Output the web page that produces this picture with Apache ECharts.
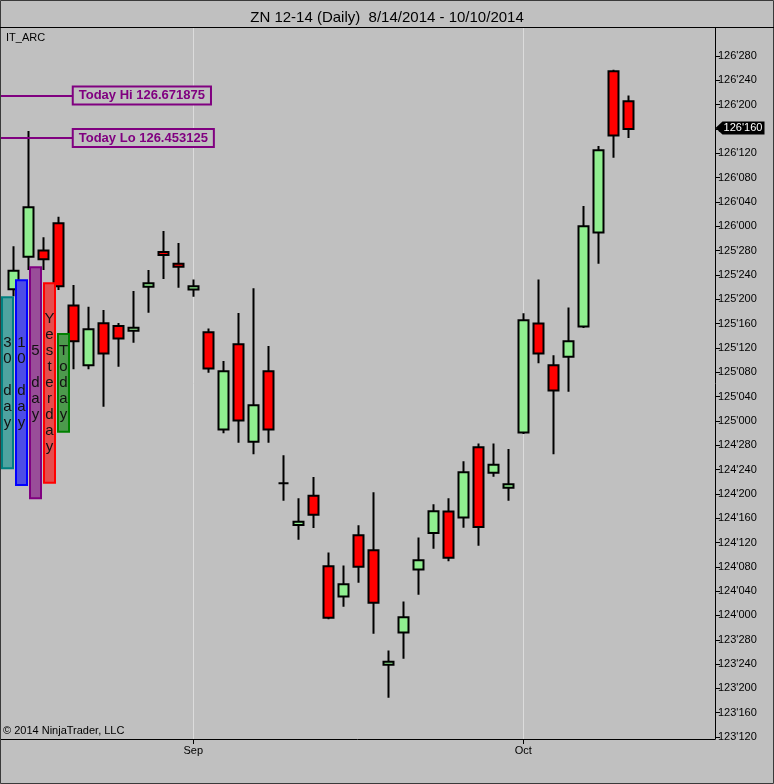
<!DOCTYPE html>
<html>
<head>
<meta charset="utf-8">
<title>ZN 12-14 (Daily)</title>
<script src="https://cdn.jsdelivr.net/npm/echarts@6/dist/echarts.min.js"></script>
<style>
  html, body { margin: 0; padding: 0; background: #c0c0c0; }
  #chart { width: 774px; height: 784px; }
</style>
</head>
<body>
<div id="chart"></div>
<script>
// daily bars 8/14/2014 - 10/10/2014 (Labor Day session included)
const dates = ['8/14','8/15','8/18','8/19','8/20','8/21','8/22','8/25','8/26','8/27','8/28','8/29',
  '9/1','9/2','9/3','9/4','9/5','9/8','9/9','9/10','9/11','9/12','9/15','9/16','9/17','9/18','9/19',
  '9/22','9/23','9/24','9/25','9/26','9/29','9/30',
  '10/1','10/2','10/3','10/6','10/7','10/8','10/9','10/10'];
const monthNames = ['Jan','Feb','Mar','Apr','May','Jun','Jul','Aug','Sep','Oct','Nov','Dec'];

const opens  = [125.676, 125.843, 125.875, 126.016, 125.593, 125.286, 125.502, 125.488, 125.463, 125.689,
  125.868, 125.808, 125.675, 125.455, 124.955, 125.394, 124.892, 125.255, 124.680, 124.465,
  124.615, 124.253, 124.097, 124.412, 124.335, 123.746, 123.912, 124.236, 124.424, 124.534,
  124.503, 124.864, 124.733, 124.656, 124.940, 125.500, 125.286, 125.329, 125.485, 125.968,
  126.797, 126.643];
const highs  = [125.898, 126.490, 125.943, 126.049, 125.698, 125.587, 125.570, 125.503, 125.667, 125.775,
  125.976, 125.914, 125.727, 125.475, 125.307, 125.554, 125.681, 125.385, 124.823, 124.602,
  124.711, 124.324, 124.257, 124.463, 124.633, 123.820, 124.072, 124.401, 124.571, 124.602,
  124.793, 124.884, 124.884, 124.855, 125.553, 125.727, 125.337, 125.583, 126.104, 126.412,
  126.805, 126.671875];
const lows   = [125.641, 125.775, 125.775, 125.672, 125.265, 125.265, 125.073, 125.278, 125.401, 125.556,
  125.729, 125.684, 125.638, 125.247, 124.936, 124.887, 124.828, 124.887, 124.589, 124.389,
  124.449, 123.980, 124.045, 124.168, 123.906, 123.577, 123.777, 124.106, 124.343, 124.278,
  124.451, 124.358, 124.713, 124.589, 124.932, 125.296, 124.828, 125.150, 125.477, 125.807,
  126.352, 126.453125];
const closes = [125.771, 126.098, 125.831, 125.692, 125.409, 125.471, 125.346, 125.423, 125.479, 125.707,
  125.852, 125.792, 125.692, 125.269, 125.255, 125.002, 125.080, 124.955, 124.680, 124.481,
  124.517, 123.988, 124.160, 124.250, 124.065, 123.762, 123.991, 124.284, 124.535, 124.297,
  124.736, 124.455, 124.774, 124.674, 125.517, 125.346, 125.156, 125.409, 126.000, 126.391,
  126.466, 126.500];

// IT_ARC range boxes
const arcLabels = ['30 day', '10 day', '5 day', 'Yesterday', 'Today'];
const arcHigh = [125.635, 125.722, 125.789, 125.707, 125.446];
const arcLow  = [124.756, 124.670, 124.602, 124.682, 124.944];

const todayHi = 126.671875;
const todayLo = 126.453125;

const yTickLabels = ["126'280","126'240","126'200","126'160","126'120","126'080","126'040","126'000",
  "125'280","125'240","125'200","125'160","125'120","125'080","125'040","125'000",
  "124'280","124'240","124'200","124'160","124'120","124'080","124'040","124'000",
  "123'280","123'240","123'200","123'160","123'120"];

// ---- helpers ----
function parse32(s) {
  const p = s.split("'");
  return Number(p[0]) + Number(p[1]) / 320;
}
function fmt32(v) {
  const whole = Math.floor(v + 1e-9);
  const frac = Math.round((v - whole) * 320);
  return whole + "'" + String(frac).padStart(3, '0');
}

const yTicks = yTickLabels.map(parse32);
const monthIdx = [];
const monthLbl = {};
dates.forEach((d, i) => {
  const m = Number(d.split('/')[0]);
  if (i > 0 && m !== Number(dates[i - 1].split('/')[0])) {
    monthIdx.push(i);
    monthLbl[i] = monthNames[m - 1];
  }
});

const candleData = dates.map((d, i) => [i, opens[i], closes[i], lows[i], highs[i]]);
const lastClose = closes[closes.length - 1];

const xMin = -0.887, xMax = 46.78;
const yMin = 123.365, yMax = 127.019;
const labelEndX = 4.03;
const font = '"Liberation Sans", Arial, sans-serif';

const arcStroke = ['#008080', '#0000ff', '#800080', '#ff0000', '#008000'];
const arcFill = ['#4fa3a0', '#4d4de6', '#994d99', '#e64d4d', '#4d9a4d'];

const chart = echarts.init(document.getElementById('chart'), null, { renderer: 'canvas' });
const option = {
  animation: false,
  backgroundColor: '#c0c0c0',
  textStyle: { fontFamily: font },
  title: {
    text: 'ZN 12-14 (Daily)  8/14/2014 - 10/10/2014',
    left: 'center',
    top: 5,
    textStyle: { fontSize: 15, fontWeight: 'normal', color: '#000', fontFamily: font }
  },
  grid: { left: 0, right: 59, top: 28, bottom: 45, outerBoundsMode: 'none' },
  xAxis: {
    type: 'value',
    min: xMin,
    max: xMax,
    axisLine: { show: true, onZero: false, lineStyle: { color: '#000', width: 1 } },
    axisTick: { show: true, customValues: monthIdx, length: 5, lineStyle: { color: '#000' } },
    axisLabel: {
      customValues: monthIdx,
      color: '#000', fontSize: 11, margin: 6, fontFamily: font,
      formatter: v => monthLbl[v] || ''
    },
    splitLine: { show: false }
  },
  yAxis: {
    type: 'value',
    position: 'right',
    min: yMin,
    max: yMax,
    axisLine: { show: true, onZero: false, lineStyle: { color: '#000', width: 1 } },
    axisTick: { show: true, customValues: yTicks, length: 5, lineStyle: { color: '#000' } },
    axisLabel: {
      customValues: yTicks,
      color: '#000', fontSize: 11, margin: 3, fontFamily: font,
      formatter: v => fmt32(v)
    },
    splitLine: { show: false }
  },
  graphic: [
    { type: 'rect', silent: true, z: 100, shape: { x: 0.5, y: 0.5, width: 773, height: 783 },
      style: { fill: 'none', stroke: '#3a3a3a', lineWidth: 1 } },
    { type: 'line', silent: true, z: 100, shape: { x1: 0, y1: 27.5, x2: 774, y2: 27.5 },
      style: { stroke: '#000', lineWidth: 1 } },
    { type: 'text', left: 6, top: 32, silent: true,
      style: { text: 'IT_ARC', font: '11px ' + font, fill: '#000' } },
    { type: 'text', left: 3, top: 725, silent: true,
      style: { text: '\u00a9 2014 NinjaTrader, LLC', font: '11px ' + font, fill: '#000' } }
  ],
  series: [
    {
      // month separators
      type: 'custom',
      z: 1,
      silent: true,
      data: monthIdx.map(i => [i, yMin]),
      encode: { x: 0, y: 1 },
      renderItem(params, api) {
        const a = api.coord([api.value(0), yMax]);
        const b = api.coord([api.value(0), yMin]);
        const x = Math.round(a[0]) + 0.5;
        return { type: 'line', shape: { x1: x, y1: a[1], x2: x, y2: b[1] },
          style: { stroke: '#dcdcdc', lineWidth: 1 } };
      }
    },
    {
      type: 'candlestick',
      z: 2,
      barWidth: 11,
      data: candleData,
      itemStyle: {
        color: '#90ee90',
        color0: '#ff0000',
        borderColor: '#000',
        borderColor0: '#000',
        borderColorDoji: '#000',
        borderWidth: 2
      },
      markLine: {
        silent: true,
        symbol: ['none', 'none'],
        lineStyle: { color: '#800080', width: 2, type: 'solid' },
        label: {
          show: true,
          position: 'end',
          distance: 0,
          formatter: '{b}',
          color: '#800080',
          fontWeight: 'bold',
          fontSize: 13,
          fontFamily: font,
          backgroundColor: '#c0c0c0',
          borderColor: '#800080',
          borderWidth: 2,
          padding: [2, 5, 1, 5]
        },
        data: [
          [{ name: 'Today Hi ' + todayHi, coord: [xMin, todayHi] }, { coord: [labelEndX, todayHi] }],
          [{ name: 'Today Lo ' + todayLo, coord: [xMin, todayLo] }, { coord: [labelEndX, todayLo] }]
        ]
      },
      markPoint: {
        silent: true,
        symbol: 'path://M0,7 L7,0 L49,0 L49,14 L7,14 Z',
        symbolSize: [49, 13],
        symbolOffset: [25, -1],
        itemStyle: { color: '#000' },
        label: {
          show: true, position: 'inside', offset: [3, 0],
          color: '#fff', fontSize: 11, fontFamily: font,
          formatter: () => fmt32(lastClose)
        },
        data: [{ coord: [xMax, lastClose] }]
      }
    },
    {
      // IT_ARC boxes
      type: 'custom',
      z: 3,
      silent: true,
      data: arcLabels.map((t, i) => [xMin, arcLow[i], arcHigh[i]]),
      encode: { x: 0, y: [1, 2] },
      renderItem(params, api) {
        const i = params.dataIndex;
        const lo = api.coord([api.value(0), api.value(1)]);
        const hi = api.coord([api.value(0), api.value(2)]);
        const left = lo[0] + 2 + i * 14;
        return {
          type: 'group',
          children: [
            { type: 'rect', shape: { x: left, y: hi[1], width: 11, height: lo[1] - hi[1] },
              style: { fill: arcFill[i], stroke: arcStroke[i], lineWidth: 2 } },
            { type: 'text',
              style: { text: arcLabels[i].split('').join('\n'), x: left + 5.5, y: (hi[1] + lo[1]) / 2,
                align: 'center', verticalAlign: 'middle', fill: '#111',
                font: '15px ' + font, lineHeight: 16 } }
          ]
        };
      }
    }
  ]
};
chart.setOption(option);
</script>
</body>
</html>
